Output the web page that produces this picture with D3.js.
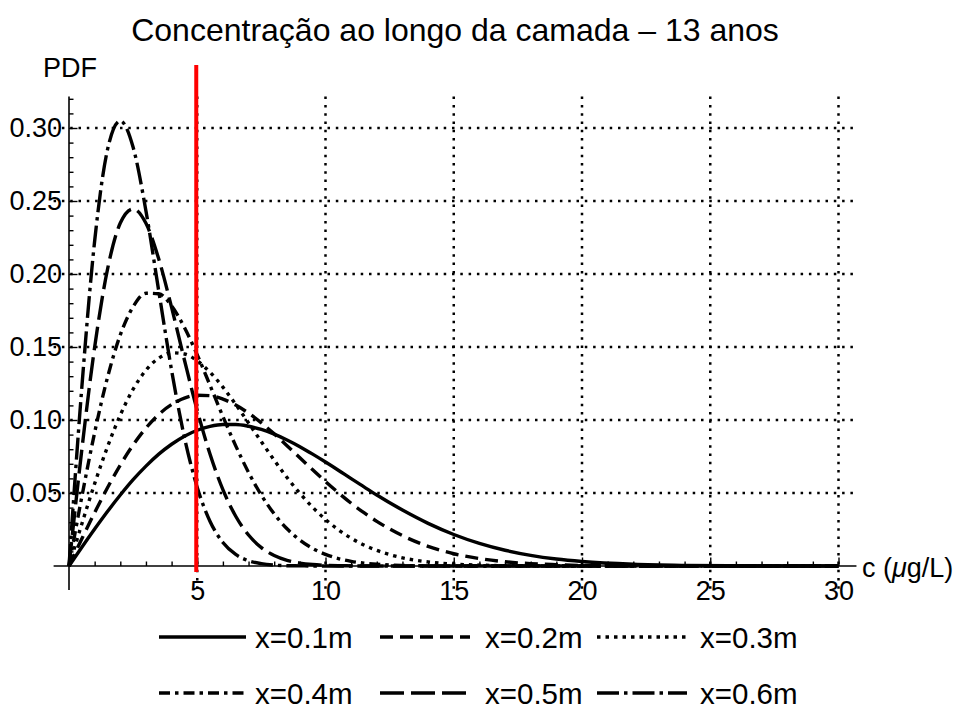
<!DOCTYPE html>
<html><head><meta charset="utf-8">
<script src="https://cdn.jsdelivr.net/npm/d3@7/dist/d3.min.js"></script>
<style>
body{margin:0;background:#fff}
text{font-family:"Liberation Sans",Arial,sans-serif;fill:#000}
</style>
</head><body>
<svg id="chart" width="968" height="708"></svg>
<script>
// ---------- data ----------
const titleText = "Concentração ao longo da camada – 13 anos";
const cValues = [0,0.5,1,1.5,2,2.5,3,3.5,4,4.5,5,5.5,6,6.5,7,7.5,8,8.5,9,9.5,10,10.5,11,11.5,12,
                 13,14,15,16,17,18,19,20,22,24,26,28,30];
const pdf01 = [0,.0128,.0253,.0373,.0486,.0591,.0684,.0766,.0834,.0889,.0930,.0956,.0969,.0969,.0957,.0935,.0903,.0863,.0817,.0766,.0712,.0656,.0598,.0542,.0486,
               .0383,.0292,.0216,.0155,.0108,.0073,.0048,.0031,.0012,.0004,.0001,0,0];
const pdf02 = [0,.0186,.0366,.0536,.0692,.0829,.0945,.1038,.1106,.1150,.1170,.1167,.1143,.1102,.1047,.0980,.0905,.0824,.0741,.0659,.0578,.0502,.0430,.0365,.0306,
               .0208,.0135,.0084,.0051,.0029,.0016,.0009,.0004,.0001,0,0,0,0];
const pdf03 = [0,.0288,.0564,.0816,.1034,.1211,.1341,.1424,.1460,.1452,.1405,.1327,.1225,.1107,.0980,.0851,.0725,.0606,.0498,.0402,.0319,.0248,.0191,.0144,.0107,
               .0056,.0028,.0013,.0006,.0002,.0001,0,0,0,0,0,0,0];
const pdf04 = [0,.0474,.0914,.1291,.1583,.1776,.1868,.1865,.1781,.1634,.1446,.1237,.1024,.0823,.0641,.0485,.0357,.0255,.0178,.0120,.0080,.0051,.0032,.0020,.0012,
               .0004,.0001,0,0,0,0,0,0,0,0,0,0,0];
const pdf05 = [0,.0797,.1499,.2031,.2349,.2446,.2347,.2102,.1771,.1411,.1065,.0765,.0523,.0341,.0212,.0126,.0072,.0039,.0020,.0010,.0005,.0002,.0001,0,0,
               0,0,0,0,0,0,0,0,0,0,0,0,0];
const pdf06 = [0,.1223,.2226,.2851,.3048,.2868,.2432,.1882,.1340,.0881,.0538,.0305,.0161,.0079,.0036,.0016,.0006,.0002,.0001,0,0,0,0,0,0,
               0,0,0,0,0,0,0,0,0,0,0,0,0];
const seriesNames = ["x=0.1m","x=0.2m","x=0.3m","x=0.4m","x=0.5m","x=0.6m"];
const seriesValues = [pdf01,pdf02,pdf03,pdf04,pdf05,pdf06];
const xMajorTicks = [5,10,15,20,25,30];
const xTickLabels = ["5","10","15","20","25","30"];
const yMajorTicks = [0.05,0.10,0.15,0.20,0.25,0.30];
const yTickLabels = ["0.05","0.10","0.15","0.20","0.25","0.30"];
const thresholdC = 5;
const xLabel = "c (", xLabelMu = "μ", xLabelRest = "g/L)";
const yLabel = "PDF";

// ---------- styles ----------
const dashes = [null, "13,7", "3.5,5", "11,5,3.5,5", "24,7", "22,5,3.5,5"];
const svg = d3.select("#chart");
const FS = 27;

const x = d3.scaleLinear().domain([0,30]).range([69,838.5]);
const y = d3.scaleLinear().domain([0,0.30]).range([566,128]);
const xExt = [-0.6, 30.7], yExt = [-0.0165, 0.3215];

// grid
const grid = svg.append("g").attr("stroke","#000").attr("stroke-width",2.5).attr("stroke-dasharray","2.5,5.8");
grid.selectAll("line.v").data(xMajorTicks).join("line")
  .attr("x1",d=>x(d)).attr("x2",d=>x(d)).attr("y1",y(yExt[1])).attr("y2",y(yExt[0]));
grid.selectAll("line.h").data(yMajorTicks).join("line")
  .attr("y1",d=>y(d)).attr("y2",d=>y(d)).attr("x1",x(xExt[0])).attr("x2",x(xExt[1]));

// axes lines
svg.append("line").attr("x1",x(xExt[0])).attr("x2",x(xExt[1])).attr("y1",y(0)).attr("y2",y(0))
  .attr("stroke","#000").attr("stroke-width",1.6);
svg.append("line").attr("x1",x(0)).attr("x2",x(0)).attr("y1",y(yExt[0])).attr("y2",y(yExt[1]))
  .attr("stroke","#000").attr("stroke-width",1.6);

// ticks via d3 axes
const xMinor = d3.range(1,31).filter(v=>v%5!==0);
const yMinor = d3.range(1,33).map(v=>v/100).filter(v=>Math.round(v*100)%5!==0);
function styleAxis(g){ g.select(".domain").remove(); g.selectAll(".tick line").attr("stroke","#000").attr("stroke-width",1.4); }
svg.append("g").attr("transform",`translate(0,${y(0)})`)
  .call(d3.axisBottom(x).tickValues(xMinor).tickSize(-4.5).tickFormat("")).call(styleAxis);
svg.append("g").attr("transform",`translate(0,${y(0)})`)
  .call(d3.axisBottom(x).tickValues(xMajorTicks).tickSize(-8.5).tickPadding(15).tickFormat((d,i)=>xTickLabels[i]))
  .call(styleAxis)
  .call(g=>g.selectAll("text").attr("font-size",FS).attr("font-family","Liberation Sans, Arial, sans-serif").attr("fill","#000"));
svg.append("g").attr("transform",`translate(${x(0)},0)`)
  .call(d3.axisLeft(y).tickValues(yMinor).tickSize(-4.5).tickFormat("")).call(styleAxis);
svg.append("g").attr("transform",`translate(${x(0)},0)`)
  .call(d3.axisLeft(y).tickValues(yMajorTicks).tickSize(-8.5).tickPadding(7).tickFormat((d,i)=>yTickLabels[i]))
  .call(styleAxis)
  .call(g=>g.selectAll("text").attr("font-size",FS).attr("font-family","Liberation Sans, Arial, sans-serif").attr("fill","#000"));

// curves
const line = d3.line().x(d=>x(d[0])).y(d=>y(d[1])).curve(d3.curveMonotoneX);
seriesValues.forEach((vals,i)=>{
  const pts = cValues.map((c,j)=>[c,vals[j]]);
  svg.append("path").attr("d",line(pts)).attr("fill","none").attr("stroke","#000")
    .attr("stroke-width",3.4).attr("stroke-dasharray",dashes[i]);
});

// threshold red line
svg.append("line").attr("x1",x(thresholdC)-1).attr("x2",x(thresholdC)-1).attr("y1",65).attr("y2",572)
  .attr("stroke","#ff0000").attr("stroke-width",4);

// labels
svg.append("text").attr("x",455).attr("y",41).attr("text-anchor","middle").attr("font-size",32).text(titleText);
svg.append("text").attr("x",43).attr("y",77).attr("font-size",FS).text(yLabel);
const xl = svg.append("text").attr("x",862).attr("y",577).attr("font-size",FS);
xl.append("tspan").text(xLabel);
xl.append("tspan").attr("font-style","italic").text(xLabelMu);
xl.append("tspan").text(xLabelRest);

// legend
const swX = [159,380,597], swW = [87,90,90], txX = [255,485,700], rowY = [637,693];
seriesNames.forEach((name,i)=>{
  const col = i%3, cy = rowY[Math.floor(i/3)];
  svg.append("line").attr("x1",swX[col]).attr("x2",swX[col]+swW[col]).attr("y1",cy).attr("y2",cy)
    .attr("stroke","#000").attr("stroke-width",3.4).attr("stroke-dasharray",dashes[i]);
  svg.append("text").attr("x",txX[col]).attr("y",cy+10.5).attr("font-size",29.5).text(name);
});
</script>
</body></html>
